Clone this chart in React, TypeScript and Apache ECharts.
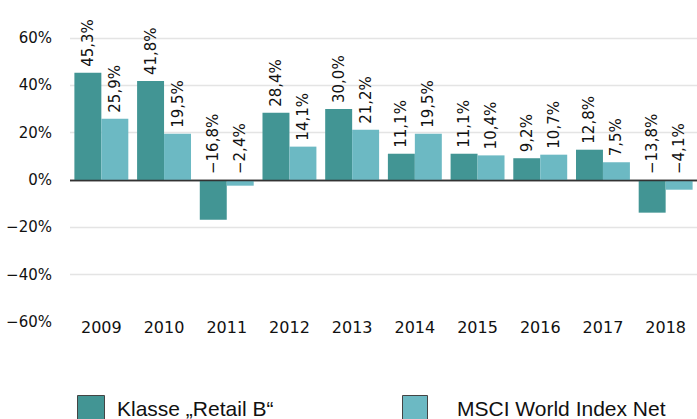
import React, { useEffect, useRef } from "react";
import * as echarts from "echarts";

const years = ["2009", "2010", "2011", "2012", "2013", "2014", "2015", "2016", "2017", "2018"];
const retailB = [45.3, 41.8, -16.8, 28.4, 30.0, 11.1, 11.1, 9.2, 12.8, -13.8];
const msciWorld = [25.9, 19.5, -2.4, 14.1, 21.2, 19.5, 10.4, 10.7, 7.5, -4.1];
const seriesNames = ["Klasse \u201ERetail B\u201C", "MSCI World Index Net"];
const colors = ["#429594", "#6cb9c3"];

const fmtVal = (v: number) => {
  const s = Math.abs(v).toFixed(1).replace(".", ",");
  return (v < 0 ? "\u2212" : "") + s + "%";
};
const fmtAxis = (v: number) => (v < 0 ? "\u2212" : "") + Math.abs(v) + "%";

export default function App() {
  const ref = useRef<HTMLDivElement>(null);
  useEffect(() => {
    if (!ref.current) return;
    const chart = echarts.init(ref.current, undefined, { renderer: "svg" });
    const font = "DejaVu Sans";
    const labelCfg = {
      show: true,
      position: "top",
      rotate: 90,
      align: "left",
      verticalAlign: "middle",
      distance: 6,
      fontFamily: font,
      fontSize: 15,
      color: "#111",
      formatter: (p: any) => fmtVal(p.value),
    };
    const legendItem = (i: number, boxX: number, boxW: number, textX: number) => [
      {
        type: "rect",
        left: boxX,
        top: 395,
        shape: { width: boxW, height: 26 },
        style: { fill: colors[i], stroke: "#444", lineWidth: 1 },
        silent: true,
      },
      {
        type: "text",
        x: textX,
        y: 419,
        style: {
          text: seriesNames[i],
          font: "21px 'Liberation Sans', Arial, sans-serif",
          fill: "#111",
          verticalAlign: "bottom",
          align: "left",
        },
        silent: true,
      },
    ];
    chart.setOption({
      animation: false,
      grid: { left: 70, right: 0, top: 38, bottom: 97 },
      xAxis: {
        type: "category",
        data: years,
        axisLine: { show: false, onZero: false },
        axisTick: { show: false },
        axisLabel: { fontFamily: font, fontSize: 16, color: "#111", margin: -3 },
      },
      yAxis: {
        type: "value",
        min: -60,
        max: 60,
        interval: 20,
        axisLine: { show: false },
        axisTick: { show: false },
        axisLabel: { fontFamily: font, fontSize: 15, color: "#111", margin: 18, formatter: fmtAxis },
        splitLine: {
          lineStyle: {
            color: ["transparent", "#e4e4e4", "#e4e4e4", "#333333", "#e4e4e4", "#e4e4e4", "#e4e4e4"],
            width: 1.3,
          },
        },
      },
      graphic: [...legendItem(0, 77, 27, 117), ...legendItem(1, 402, 25, 457)],
      series: [
        {
          name: seriesNames[0],
          type: "bar",
          data: retailB,
          itemStyle: { color: colors[0] },
          barGap: "0%",
          barCategoryGap: "14%",
          label: labelCfg,
          markLine: {
            silent: true,
            symbol: "none",
            label: { show: false },
            lineStyle: { color: "#333", width: 1.3, type: "solid" },
            data: [{ yAxis: 0 }],
          },
        },
        {
          name: seriesNames[1],
          type: "bar",
          data: msciWorld,
          itemStyle: { color: colors[1] },
          barGap: "0%",
          barCategoryGap: "14%",
          label: labelCfg,
        },
      ],
    });
    return () => chart.dispose();
  }, []);
  return <div ref={ref} style={{ width: 697, height: 419, position: "absolute", left: 0, top: 0 }} />;
}
